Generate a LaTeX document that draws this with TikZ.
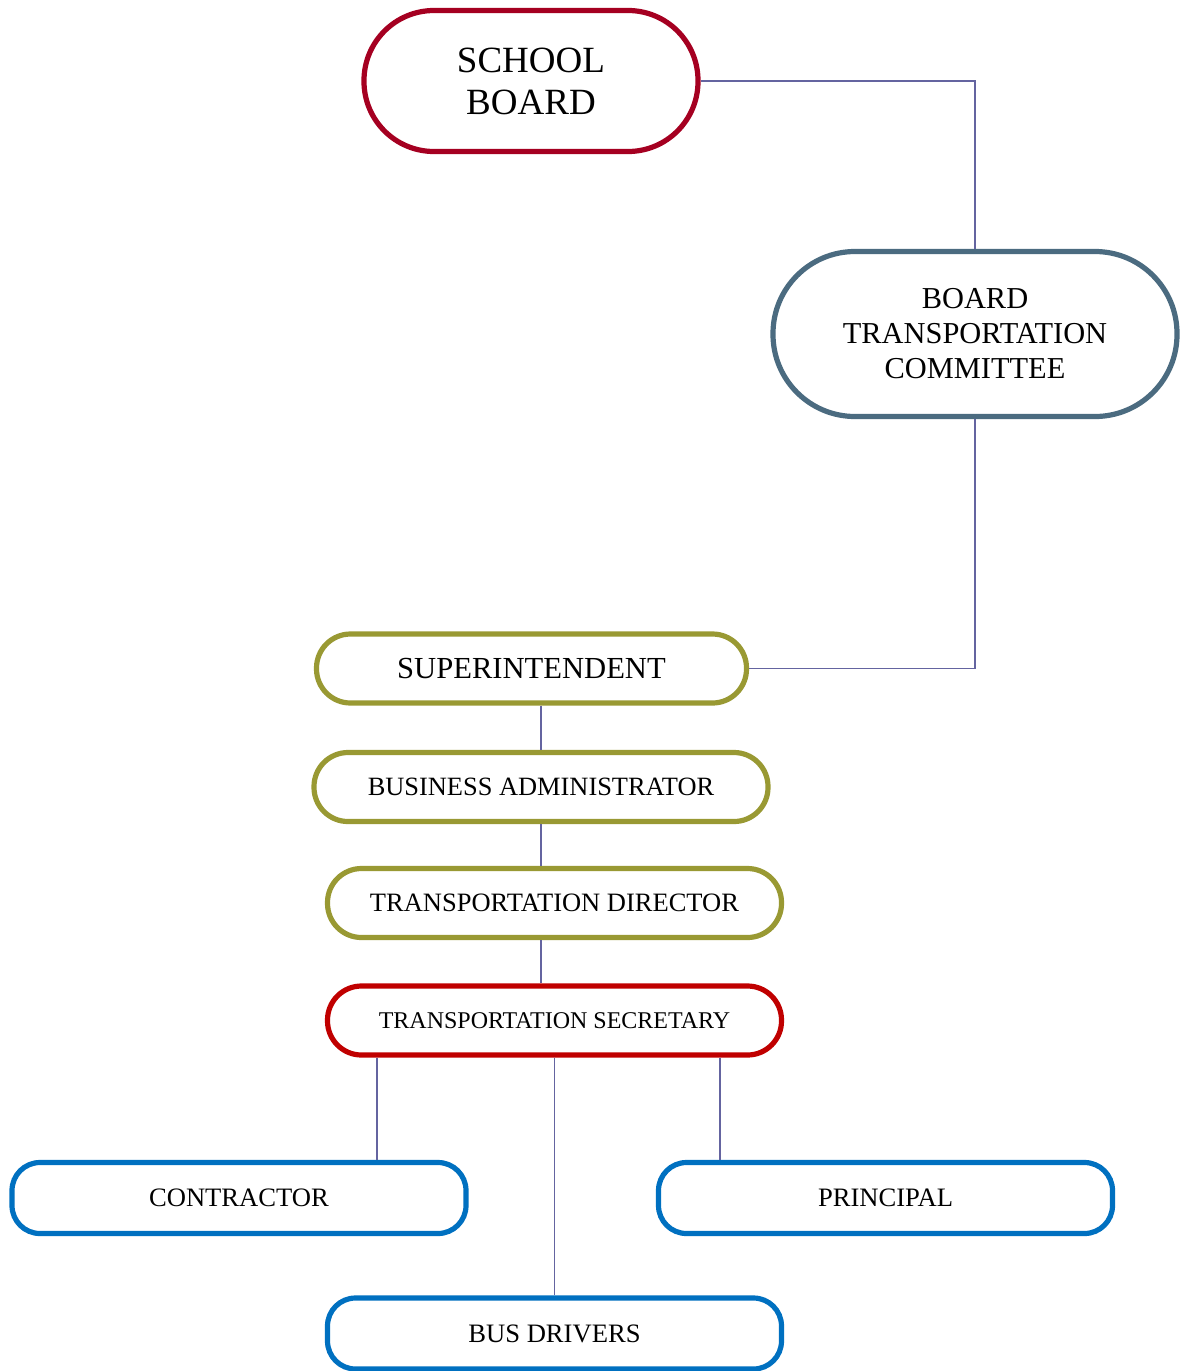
\documentclass[tikz,border=0pt]{standalone}
\usepackage{fontspec}
\setmainfont{Liberation Serif}
\usetikzlibrary{positioning,calc}

\definecolor{boardred}{RGB}{165,0,33}
\definecolor{cttslate}{RGB}{75,107,128}
\definecolor{adminolive}{RGB}{153,153,51}
\definecolor{secred}{RGB}{192,0,0}
\definecolor{staffblue}{RGB}{0,112,192}
\definecolor{linkcol}{RGB}{100,100,160}

\tikzset{
  orgbox/.style={draw, line width=2.6pt, fill=white, align=center, inner sep=0pt},
  pill/.style={orgbox, minimum width=227pt, minimum height=34.5pt, rounded corners=17pt},
  link/.style={draw=linkcol, line width=0.75pt},
}

\begin{document}
\begin{tikzpicture}[x=0.5pt,y=-0.5pt]
  \useasboundingbox (0,0) rectangle (1180,1371);

  % board level
  \node[orgbox, draw=boardred, minimum width=167pt, minimum height=70.5pt,
        rounded corners=35pt, font=\fontsize{18.5}{21}\selectfont] (sb) at (531,81) {SCHOOL\\BOARD};
  \node[orgbox, draw=cttslate, minimum width=202pt, minimum height=82.5pt,
        rounded corners=41pt, font=\fontsize{15.2}{17.5}\selectfont] (btc) at (975,334)
        {BOARD\\TRANSPORTATION\\COMMITTEE};

  % administration chain
  \node[pill, draw=adminolive, minimum width=215pt, font=\fontsize{15.3}{18}\selectfont] (sup) at (531.5,668.5) {SUPERINTENDENT};
  \node[pill, draw=adminolive, font=\fontsize{13.2}{16}\selectfont] (ba) at (541,787) {BUSINESS ADMINISTRATOR};
  \node[pill, draw=adminolive, font=\fontsize{13.25}{16}\selectfont] (dir) at (554.5,903) {TRANSPORTATION DIRECTOR};
  \node[pill, draw=secred, font=\fontsize{12}{14}\selectfont] (sec) at (554.5,1020.5) {TRANSPORTATION SECRETARY};

  % staff level
  \foreach \name/\x/\y/\descr in {con/239/1198/CONTRACTOR, pri/885.5/1198/PRINCIPAL, bus/554.5/1333.5/BUS DRIVERS}
    \node[pill, draw=staffblue, minimum height=35.5pt, rounded corners=14pt,
          font=\fontsize{13.3}{16}\selectfont] (\name) at (\x,\y) {\descr};

  % connectors
  \draw[link] (sb.east) -| (btc.north);
  \draw[link] (btc.south) |- (sup.east);
  \draw[link] (sup.south -| ba.north) -- (ba.north);
  \draw[link] (ba.south) -- (ba.south |- dir.north);
  \draw[link] (dir.south -| ba.south) -- (sec.north -| ba.south);

  \coordinate (conin) at ($(con.north west)!0.8!(con.north east)$);
  \coordinate (priin) at ($(pri.north west)!0.14!(pri.north east)$);
  \draw[link] (sec.south -| conin) -- (conin);
  \draw[link] (sec.south) -- (bus.north);
  \draw[link] (sec.south -| priin) -- (priin);

\end{tikzpicture}
\end{document}
